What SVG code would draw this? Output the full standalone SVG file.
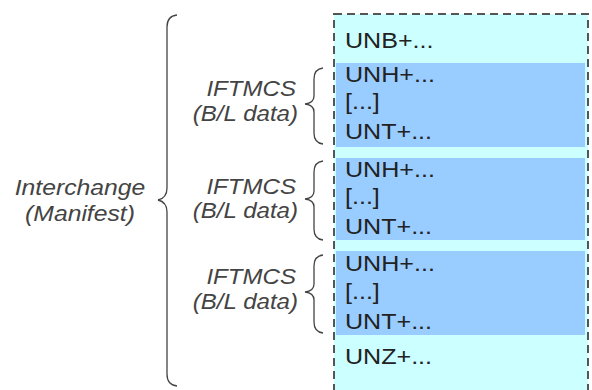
<svg xmlns="http://www.w3.org/2000/svg" width="592" height="390" viewBox="0 0 592 390">
<style>
.t{font-family:"Liberation Sans",Arial,sans-serif;font-size:22px;fill:#222}
.i{font-family:"Liberation Sans",Arial,sans-serif;font-size:21.5px;font-style:italic;fill:#444;text-anchor:end}
.c{text-anchor:middle}
.br{fill:none;stroke:#444;stroke-width:1.3}
.msg{fill:#99ccff}
</style>
<g id="interchange">
<rect x="334" y="14" width="254" height="390" fill="#ccffff" stroke="#555" stroke-width="2" stroke-dasharray="8,5"/>
<text class="t" transform="translate(345 48) scale(1.14 1)">UNB+...</text>
<text class="t" transform="translate(345 364) scale(1.14 1)">UNZ+...</text>
</g>
<g id="msg1">
<rect class="msg" x="336" y="63" width="249" height="84"/>
<text class="t" transform="translate(345 82) scale(1.14 1)">UNH+...</text>
<text class="t" transform="translate(345 109) scale(1.14 1)">[...]</text>
<text class="t" transform="translate(345 139) scale(1.14 1)">UNT+...</text>
</g>
<g id="msg2">
<rect class="msg" x="336" y="158" width="249" height="82"/>
<text class="t" transform="translate(345 177) scale(1.14 1)">UNH+...</text>
<text class="t" transform="translate(345 204) scale(1.14 1)">[...]</text>
<text class="t" transform="translate(345 234) scale(1.14 1)">UNT+...</text>
</g>
<g id="msg3">
<rect class="msg" x="336" y="251" width="249" height="84"/>
<text class="t" transform="translate(345 271) scale(1.14 1)">UNH+...</text>
<text class="t" transform="translate(345 299) scale(1.14 1)">[...]</text>
<text class="t" transform="translate(345 329) scale(1.14 1)">UNT+...</text>
</g>
<g id="labels">
<text class="i c" transform="translate(80 195) scale(1.15 1)">Interchange</text>
<text class="i c" transform="translate(80 221) scale(1.15 1)">(Manifest)</text>
<text class="i" transform="translate(296 96) scale(1.12 1)">IFTMCS</text>
<text class="i" transform="translate(298 121) scale(1.12 1)">(B/L data)</text>
<text class="i" transform="translate(296 194) scale(1.12 1)">IFTMCS</text>
<text class="i" transform="translate(298 218) scale(1.12 1)">(B/L data)</text>
<text class="i" transform="translate(296 284) scale(1.12 1)">IFTMCS</text>
<text class="i" transform="translate(298 309) scale(1.12 1)">(B/L data)</text>
</g>
<g id="connectors">
<path class="br" d="M177,15 Q167,16 167,27 L167,188 Q167,198 158,200 Q167,202 167,212 L167,374 Q167,385 177,386"/>
<path class="br" d="M323,68 Q314,69 314,79 L314,96 Q314,103 305,104 Q314,105 314,112 L314,133 Q314,143 323,144"/>
<path class="br" d="M323,161 Q314,162 314,172 L314,191 Q314,198 305,199 Q314,200 314,207 L314,229 Q314,239 323,240"/>
<path class="br" d="M323,255 Q314,256 314,266 L314,284 Q314,291 305,292 Q314,293 314,300 L314,322 Q314,332 323,333"/>
</g>
</svg>
